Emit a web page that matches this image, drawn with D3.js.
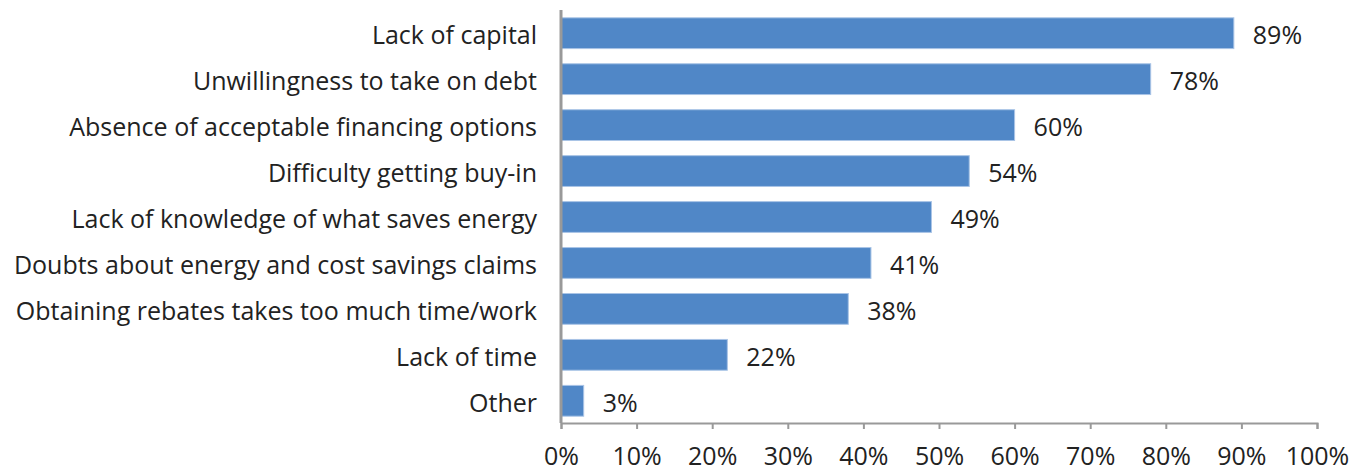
<!DOCTYPE html>
<html>
<head>
<meta charset="utf-8">
<script src="https://cdn.jsdelivr.net/npm/d3@7/dist/d3.min.js"></script>
<style>
  html, body { margin: 0; padding: 0; background: #fff; }
  svg { display: block; }
  text { font-family: "Open Sans", "Noto Sans", sans-serif; fill: #222; }
</style>
</head>
<body>
<svg id="chart" width="1363" height="468"></svg>
<script>
// Barriers to energy-efficiency investment, share of respondents
const categories = [
  "Lack of capital",
  "Unwillingness to take on debt",
  "Absence of acceptable financing options",
  "Difficulty getting buy-in",
  "Lack of knowledge of what saves energy",
  "Doubts about energy and cost savings claims",
  "Obtaining rebates takes too much time/work",
  "Lack of time",
  "Other"
];
const values = [89, 78, 60, 54, 49, 41, 38, 22, 3];
const tickValues = [0, 10, 20, 30, 40, 50, 60, 70, 80, 90, 100];

const margin = { top: 10, right: 46, bottom: 45, left: 561 };
const width = 1363, height = 468;
const fontSize = 25;

const svg = d3.select("#chart");

const x = d3.scaleLinear()
  .domain([0, 100])
  .range([margin.left, width - margin.right]);

const y = d3.scaleBand()
  .domain(categories)
  .range([margin.top, height - margin.bottom + 1])
  .paddingInner(0.33)
  .paddingOuter(0.17);

// Bars
svg.append("g")
  .selectAll("rect")
  .data(values)
  .join("rect")
  .attr("x", x(0))
  .attr("y", (d, i) => y(categories[i]))
  .attr("width", d => x(d) - x(0))
  .attr("height", y.bandwidth())
  .attr("fill", "#5087c7")
  .attr("stroke", "#a9c4e6")
  .attr("stroke-width", 1);

// Value labels
svg.append("g")
  .selectAll("text")
  .data(values)
  .join("text")
  .attr("x", d => x(d) + 19)
  .attr("y", (d, i) => y(categories[i]) + y.bandwidth() / 2)
  .attr("dy", "0.43em")
  .attr("font-size", fontSize)
  .text(d => d + "%");

// Category labels
svg.append("g")
  .selectAll("text")
  .data(categories)
  .join("text")
  .attr("x", margin.left - 24)
  .attr("y", d => y(d) + y.bandwidth() / 2)
  .attr("dy", "0.43em")
  .attr("text-anchor", "end")
  .attr("font-size", fontSize)
  .text(d => d);

// X axis
const xAxis = svg.append("g")
  .attr("transform", `translate(0,${height - margin.bottom})`)
  .call(d3.axisBottom(x)
    .tickValues(tickValues)
    .tickFormat(d => d + "%")
    .tickSize(6)
    .tickPadding(18));
xAxis.select(".domain").attr("stroke", "#999").attr("stroke-width", 2);
xAxis.selectAll(".tick line").attr("stroke", "#999").attr("stroke-width", 2);
xAxis.selectAll(".tick text")
  .attr("font-size", fontSize)
  .attr("fill", "#222")
  .style("font-family", '"Open Sans", "Noto Sans", sans-serif');

// Y axis line
svg.append("line")
  .attr("x1", x(0)).attr("x2", x(0))
  .attr("y1", margin.top).attr("y2", height - margin.bottom)
  .attr("stroke", "#999")
  .attr("stroke-width", 3);
</script>
</body>
</html>
